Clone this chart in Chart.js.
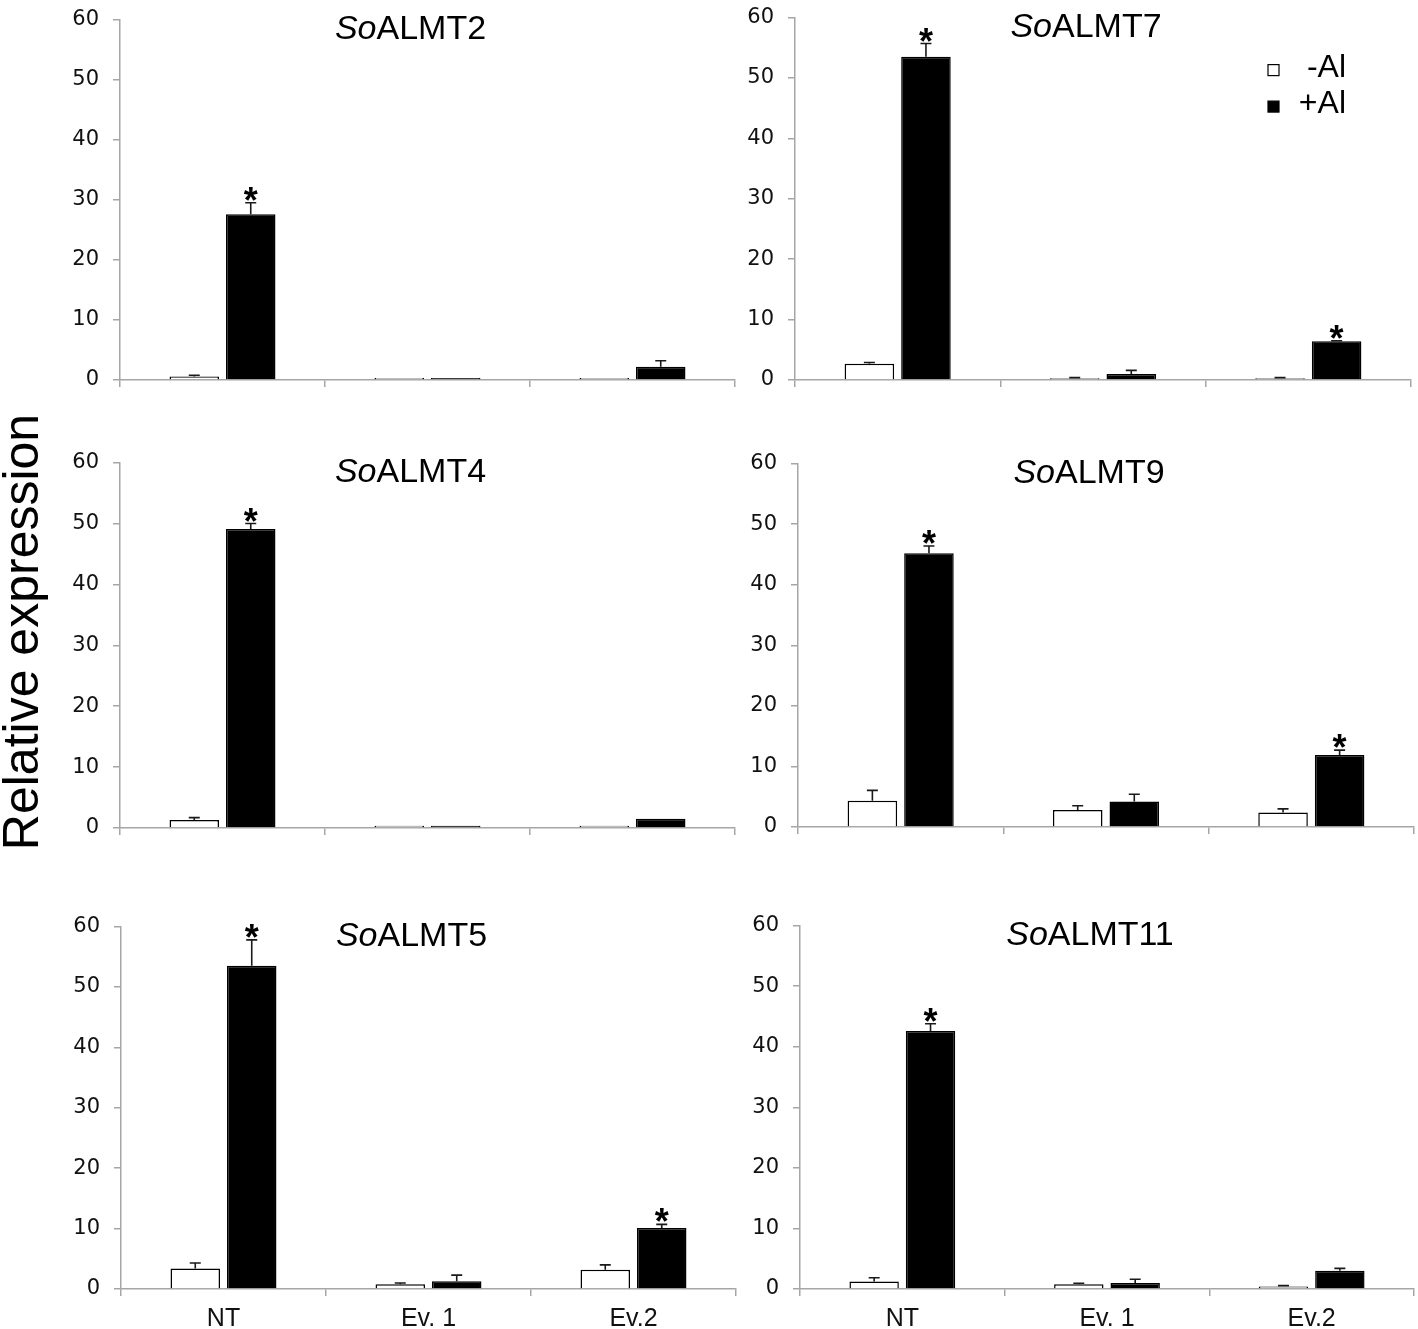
<!DOCTYPE html>
<html><head><meta charset="utf-8">
<script src="https://cdn.jsdelivr.net/npm/chart.js@4/dist/chart.umd.min.js"></script>
<style>
html,body{margin:0;padding:0;background:#fff;width:1418px;height:1329px;overflow:hidden;position:relative}
.p{position:absolute}
#ylab{position:absolute;font:50px "Liberation Sans",Arial,sans-serif;color:#000;white-space:nowrap;transform:translate(-50%,-50%) rotate(-90deg);left:21px;top:632px;}
</style></head><body>
<div id="ylab">Relative expression</div>
<script>
// ---- data ----
const categories = ['NT', 'Ev. 1', 'Ev.2'];
const seriesLabels = ['-Al', '+Al'];
const yTickMax = 60, yTickStep = 10;
const genePrefix = 'So';
const geneNames = ['ALMT2', 'ALMT7', 'ALMT4', 'ALMT9', 'ALMT5', 'ALMT11'];

const minusAl_ALMT2  = [0.6, 0.35, 0.35];
const plusAl_ALMT2   = [27.6, 0.35, 2.2];
const minusErr_ALMT2 = [0.2, 0, 0];
const plusErr_ALMT2  = [1.9, 0, 1.0];
const sig_ALMT2      = [false, false, false];
const sigPlus_ALMT2  = [true, false, false];

const minusAl_ALMT7  = [2.7, 0.3, 0.3];
const plusAl_ALMT7   = [53.5, 1.0, 6.4];
const minusErr_ALMT7 = [0.2, 0.1, 0.1];
const plusErr_ALMT7  = [2.2, 0.6, 0.1];
const sig_ALMT7      = [false, false, false];
const sigPlus_ALMT7  = [true, false, true];

const minusAl_ALMT4  = [1.3, 0.35, 0.35];
const plusAl_ALMT4   = [49.1, 0.35, 1.5];
const minusErr_ALMT4 = [0.4, 0, 0];
const plusErr_ALMT4  = [0.9, 0, 0];
const sig_ALMT4      = [false, false, false];
const sigPlus_ALMT4  = [true, false, false];

const minusAl_ALMT9  = [4.35, 2.8, 2.4];
const plusAl_ALMT9   = [45.2, 4.2, 11.9];
const minusErr_ALMT9 = [1.7, 0.7, 0.6];
const plusErr_ALMT9  = [1.2, 1.2, 0.8];
const sig_ALMT9      = [false, false, false];
const sigPlus_ALMT9  = [true, false, true];

const minusAl_ALMT5  = [3.4, 0.8, 3.2];
const plusAl_ALMT5   = [53.5, 1.3, 10.1];
const minusErr_ALMT5 = [0.9, 0.2, 0.8];
const plusErr_ALMT5  = [4.3, 1.0, 0.6];
const sig_ALMT5      = [false, false, false];
const sigPlus_ALMT5  = [true, false, true];

const minusAl_ALMT11  = [1.25, 0.8, 0.4];
const plusAl_ALMT11   = [42.6, 1.0, 3.0];
const minusErr_ALMT11 = [0.6, 0.15, 0.15];
const plusErr_ALMT11  = [1.2, 0.6, 0.4];
const sig_ALMT11      = [false, false, false];
const sigPlus_ALMT11  = [true, false, false];

const panelData = [
  [minusAl_ALMT2, plusAl_ALMT2, minusErr_ALMT2, plusErr_ALMT2, sig_ALMT2, sigPlus_ALMT2],
  [minusAl_ALMT7, plusAl_ALMT7, minusErr_ALMT7, plusErr_ALMT7, sig_ALMT7, sigPlus_ALMT7],
  [minusAl_ALMT4, plusAl_ALMT4, minusErr_ALMT4, plusErr_ALMT4, sig_ALMT4, sigPlus_ALMT4],
  [minusAl_ALMT9, plusAl_ALMT9, minusErr_ALMT9, plusErr_ALMT9, sig_ALMT9, sigPlus_ALMT9],
  [minusAl_ALMT5, plusAl_ALMT5, minusErr_ALMT5, plusErr_ALMT5, sig_ALMT5, sigPlus_ALMT5],
  [minusAl_ALMT11, plusAl_ALMT11, minusErr_ALMT11, plusErr_ALMT11, sig_ALMT11, sigPlus_ALMT11]
];

// ---- layout (plot-area frames: left, top, right, bottom) ----
const frames = [
  [120, 15, 735, 380],
  [795, 13, 1411, 380],
  [120, 458, 735, 828],
  [798, 459, 1414, 827],
  [121, 922, 736, 1289],
  [800, 921, 1414, 1289]
];
const YW = 60, XH = 45, PT = 22, PR = 4;
const FONT = '"Liberation Sans", Arial, sans-serif';
const TICKFONT = '"DejaVu Sans", "Liberation Sans", sans-serif';
const AX = '#a6a6a6';

const overlay = {
  id: 'overlay',
  afterDatasetsDraw(chart, args, opts) {
    const ctx = chart.ctx, ys = chart.scales.y, ca = chart.chartArea;
    ctx.save();
    chart.data.datasets.forEach((ds, di) => {
      const meta = chart.getDatasetMeta(di);
      meta.data.forEach((bar, i) => {
        const v = ds.data[i], e = ds.err[i];
        const yTop = ys.getPixelForValue(v + e);
        if (e > 0.05) {
          ctx.strokeStyle = '#1a1a1a'; ctx.lineWidth = 1.6;
          ctx.beginPath();
          ctx.moveTo(bar.x, bar.y); ctx.lineTo(bar.x, yTop);
          ctx.moveTo(bar.x - 5.5, yTop); ctx.lineTo(bar.x + 5.5, yTop);
          ctx.stroke();
        }
        if (ds.sig[i]) {
          ctx.fillStyle = '#000';
          ctx.font = 'bold 36px ' + FONT;
          ctx.textAlign = 'left'; ctx.textBaseline = 'alphabetic';
          const m = ctx.measureText('*');
          const gx = bar.x - (m.actualBoundingBoxRight - m.actualBoundingBoxLeft) / 2;
          const gy = yTop - 2 - m.actualBoundingBoxDescent;
          ctx.fillText('*', gx, gy);
        }
      });
    });
    // title with italic prefix
    const cx = (ca.left + ca.right) / 2 - 17, cy = ca.top + 10;
    ctx.fillStyle = '#000'; ctx.textBaseline = 'middle'; ctx.textAlign = 'left';
    ctx.font = 'italic 34px ' + FONT;
    const w1 = ctx.measureText(opts.prefix).width;
    ctx.font = '34px ' + FONT;
    const w2 = ctx.measureText(opts.name).width;
    const x0 = cx - (w1 + w2) / 2;
    ctx.font = 'italic 34px ' + FONT; ctx.fillText(opts.prefix, x0, cy);
    ctx.font = '34px ' + FONT; ctx.fillText(opts.name, x0 + w1, cy);
    // legend
    if (opts.legend) {
      chart.data.datasets.forEach((ds, di) => {
        const ly = ca.top + 51 + di * 35.5;
        const sy = ly - 4 + di;
        ctx.fillStyle = ds.backgroundColor; ctx.strokeStyle = '#000'; ctx.lineWidth = 1.2;
        ctx.fillRect(ca.right - 143, sy, 11, 11);
        ctx.strokeRect(ca.right - 143, sy, 11, 11);
        ctx.fillStyle = '#000'; ctx.font = '32px ' + FONT; ctx.textBaseline = 'middle';
        ctx.textAlign = 'right';
        ctx.fillText(ds.label, ca.right - 65, ly);
        ctx.textAlign = 'left';
      });
    }
    ctx.restore();
  }
};

frames.forEach((f, idx) => {
  const [L, T, R, B] = f;
  const div = document.createElement('div');
  div.className = 'p';
  const W = (R - L) + YW + PR, H = (B - T) + PT + XH;
  div.style.left = (L - YW) + 'px'; div.style.top = (T - PT) + 'px';
  div.style.width = W + 'px'; div.style.height = H + 'px';
  const cv = document.createElement('canvas');
  cv.width = W; cv.height = H;
  div.appendChild(cv);
  document.body.appendChild(div);
  const d = panelData[idx];
  const bottomRow = idx >= 4;
  new Chart(cv, {
    type: 'bar',
    data: {
      labels: categories,
      datasets: [
        { label: seriesLabels[0], data: d[0], err: d[2], sig: d[4], backgroundColor: '#ffffff', borderColor: '#000', borderWidth: 1.5 },
        { label: seriesLabels[1], data: d[1], err: d[3], sig: d[5], backgroundColor: '#000000', borderColor: '#000', borderWidth: 1.5 }
      ]
    },
    options: {
      responsive: false, animation: false, devicePixelRatio: 1,
      categoryPercentage: 0.551, barPercentage: 0.876,
      layout: { padding: { top: PT, right: PR, left: 0, bottom: 0 } },
      plugins: {
        legend: { display: false }, title: { display: false }, tooltip: { enabled: false },
        overlay: { prefix: genePrefix, name: geneNames[idx], legend: idx === 1 }
      },
      scales: {
        x: {
          grid: { drawOnChartArea: false, drawTicks: true, tickLength: 7, color: AX, lineWidth: 1.5, offset: true },
          border: { display: true, color: AX, width: 1.5 },
          ticks: { font: { family: FONT, size: 25 }, color: '#111', padding: 8,
                   callback: function (v, i) { return bottomRow ? categories[i] : ''; } },
          afterFit(s) { s.height = XH; }
        },
        y: {
          min: 0, max: yTickMax,
          ticks: { stepSize: yTickStep, font: { family: TICKFONT, size: 21 }, color: '#111', padding: 14 },
          grid: { drawOnChartArea: false, tickLength: 7, color: AX, lineWidth: 1.5 },
          border: { display: true, color: AX, width: 1.5 },
          afterFit(s) { s.width = YW; }
        }
      }
    },
    plugins: [overlay]
  });
});
</script>
</body></html>
